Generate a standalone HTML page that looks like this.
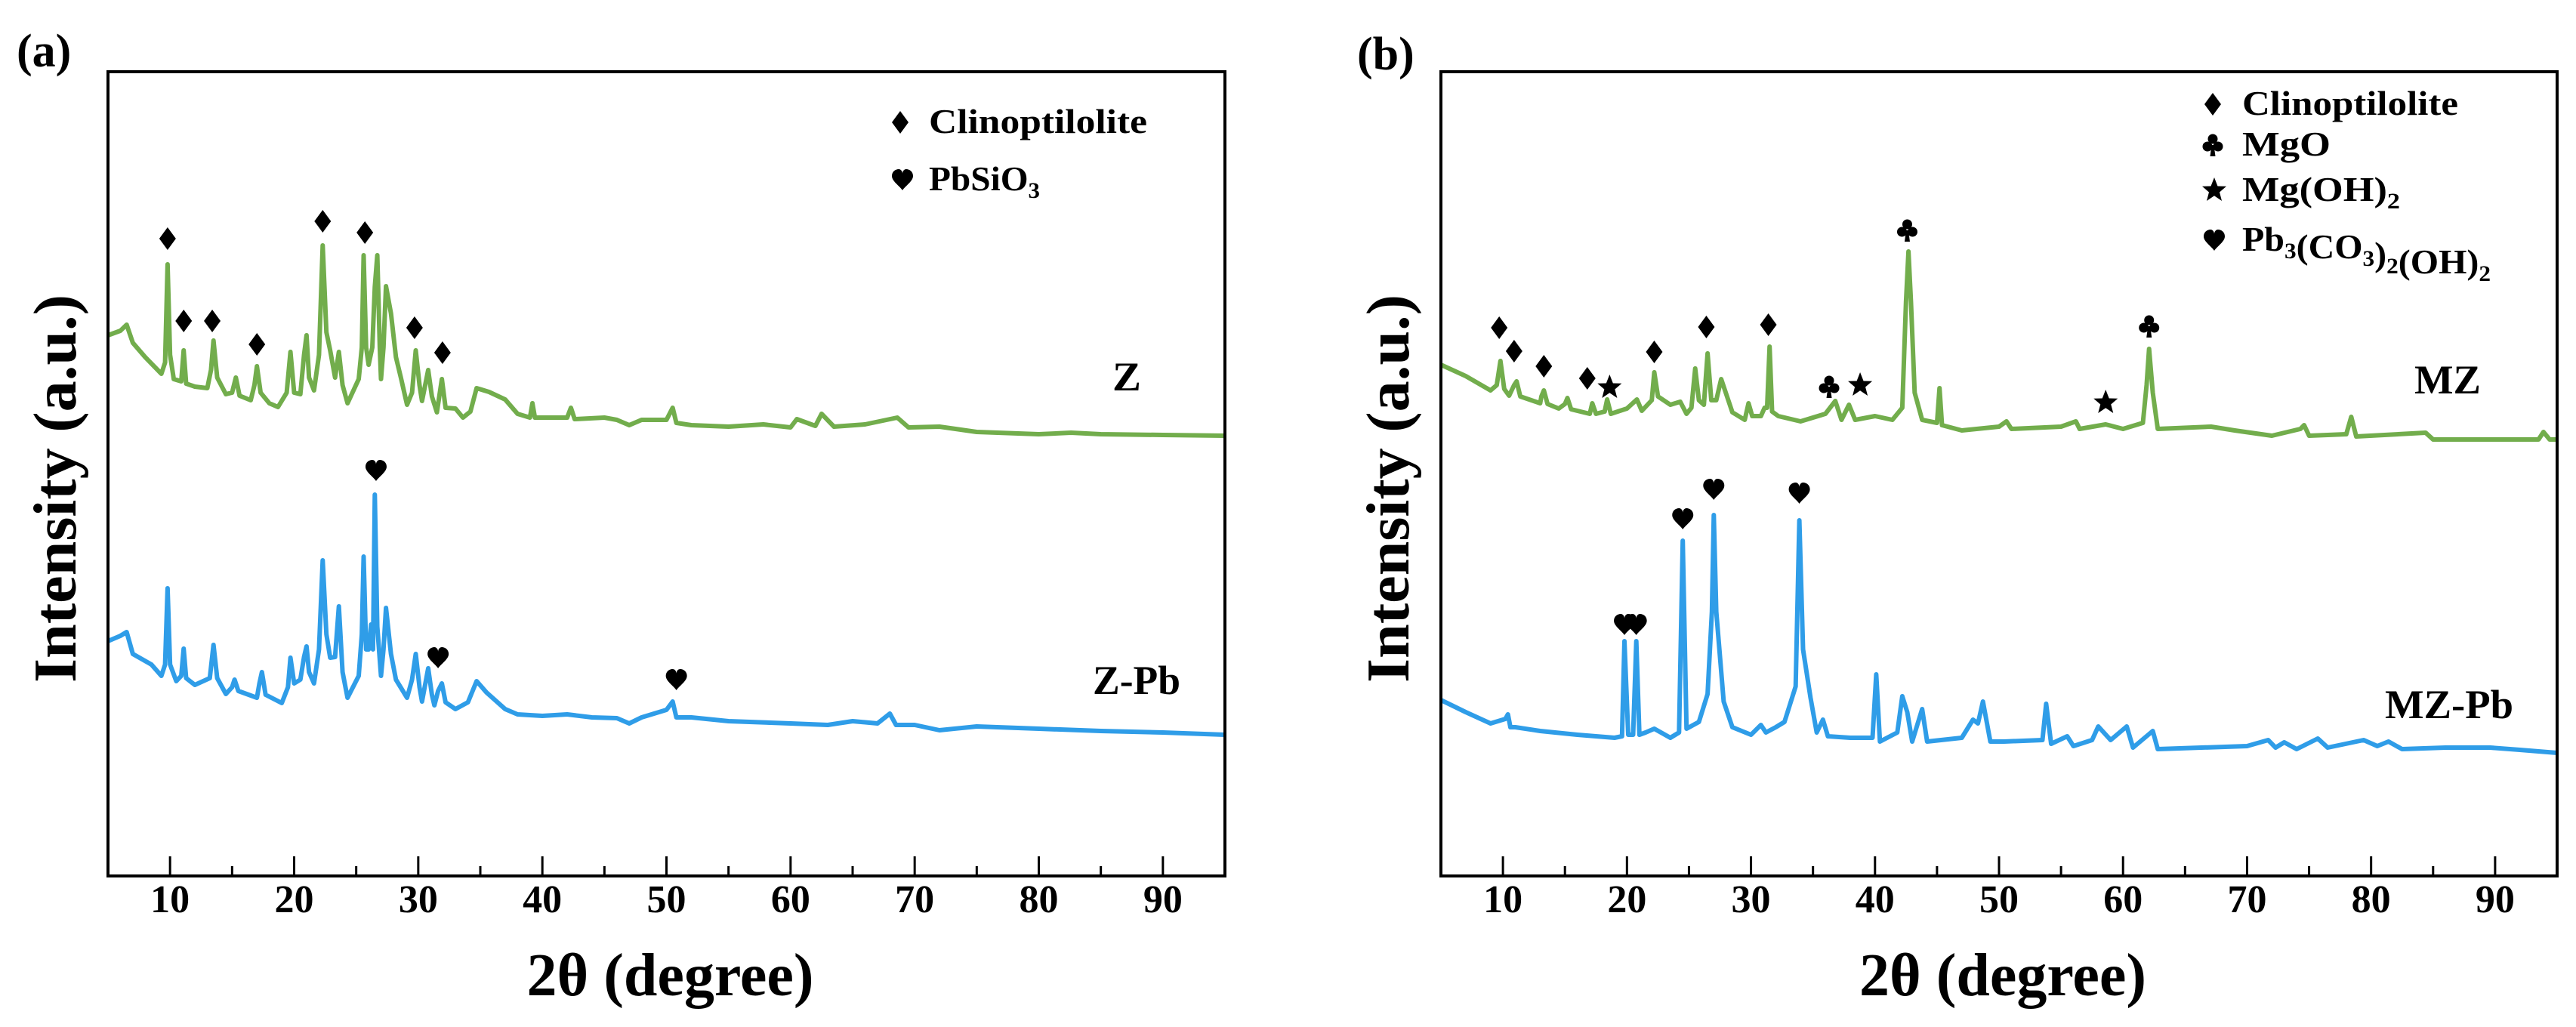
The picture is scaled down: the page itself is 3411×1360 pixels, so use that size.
<!DOCTYPE html>
<html><head><meta charset="utf-8"><style>
html,body{margin:0;padding:0;background:#fff;}
svg{display:block;font-family:"Liberation Serif",serif;font-weight:bold;}
</style></head><body>
<svg id="fig" width="3411" height="1360" viewBox="0 0 3411 1360" xmlns="http://www.w3.org/2000/svg">
<rect width="3411" height="1360" fill="#fff"/>
<text x="22" y="88" font-size="62">(a)</text>
<text x="1797" y="92" font-size="62">(b)</text>
<g id="pa"></g>
<g id="pb"></g>
</svg>
<script>
// ---- data (2θ in degrees, intensity in a.u.) ----
const ticksMajor = [10,20,30,40,50,60,70,80,90];
const ticksMinor = [15,25,35,45,55,65,75,85];
const zDeg = [5,6,6.5,7,8,9.3,9.6,9.8,10.0,10.3,10.9,11.1,11.3,12,13,13.3,13.5,13.8,14.5,15.0,15.3,15.6,16.5,16.8,17.0,17.3,18,18.7,19.4,19.7,20.0,20.5,20.8,21.0,21.2,21.6,22.0,22.3,22.6,22.9,23.3,23.6,23.9,24.3,25.2,25.45,25.6,25.8,26.0,26.3,26.5,26.7,26.9,27.0,27.2,27.4,27.8,28.2,28.6,29.1,29.5,29.8,30.1,30.3,30.8,31.1,31.5,31.9,32.2,33,33.6,34.2,34.7,35.7,37.0,38,39,39.2,39.4,42,42.3,42.6,45,46,47,48,50,50.5,50.8,52,55,57.8,60,60.5,62,62.5,63.5,66,68.6,69.5,72,75,80,82.6,85,90,95];
const zInt = [716,722,730,706,687,665,680,810,690,658,655,696,652,648,646,670,709,660,638,640,660,636,630,650,675,640,626,621,640,694,640,638,690,716,660,643,690,835,720,696,660,694,650,626,658,700,822,700,677,700,780,822,700,658,700,781,745,687,660,624,640,696,650,629,670,635,614,658,620,619,607,615,646,641,631,612,607,626,607,607,620,605,607,604,597,604,604,620,600,597,595,598,594,605,596,612,595,598,607,594,595,588,585,587,585,584,583];
const zpbDeg = [5,6,6.5,7,8.5,9.3,9.6,9.8,10.0,10.5,10.9,11.1,11.3,12,13.2,13.5,13.8,14.5,15.0,15.2,15.5,17,17.2,17.4,17.7,19,19.5,19.7,20.0,20.5,20.8,21.0,21.2,21.6,22.0,22.3,22.6,22.9,23.3,23.6,23.9,24.3,25.2,25.45,25.6,25.8,26.0,26.2,26.35,26.5,26.7,27.0,27.2,27.4,27.8,28.2,29.1,29.5,29.8,30.1,30.3,30.8,31.1,31.3,31.6,31.9,32.2,33,34.0,34.7,35.5,37,38,40,42,44,46,47,48,50,50.5,50.8,52,55,60,63,65,67,68,68.5,70,72,75,80,85,90,95];
const zpbInt = [311,318,323,294,280,265,280,381,280,258,265,301,262,253,262,306,262,241,250,260,245,236,255,270,240,229,250,289,255,260,290,304,270,255,300,418,320,289,290,357,270,236,265,320,423,300,300,333,300,505,330,265,300,355,294,260,236,260,294,250,231,275,240,226,245,255,230,221,230,258,243,221,214,212,214,210,209,202,210,220,231,210,210,205,202,200,205,202,215,200,200,193,198,195,192,190,187];
const mzDeg = [5,7,9,9.5,9.8,10.1,10.5,10.9,11.1,11.4,13,13.1,13.3,13.6,14.5,15.0,15.2,15.5,17,17.2,17.5,18.2,18.4,18.7,20,20.8,21.2,22.0,22.2,22.5,23.5,24.3,24.8,25.2,25.5,25.8,26.2,26.5,26.8,27.2,27.6,28.5,29.5,29.8,30.1,30.8,31.1,31.3,31.5,31.7,32.2,34,36,36.8,37.3,37.9,38.4,40,41.4,42.2,42.5,42.7,42.9,43.2,43.8,45.0,45.2,45.4,47,50,50.6,51,55,56.2,56.5,58.6,60,61.6,61.9,62.1,62.4,62.8,67.1,69,72,74.3,74.6,75,78.0,78.4,78.8,84.4,85,93.5,93.9,94.4,95];
const mzInt = [677,662,643,650,682,645,636,650,655,635,626,635,643,625,619,625,633,618,612,626,612,615,631,612,619,631,616,630,667,635,624,628,612,620,672,630,624,692,630,630,658,614,604,626,609,609,620,620,701,615,609,602,612,629,604,624,604,609,604,620,760,827,760,640,604,600,646,597,590,595,602,592,595,602,592,598,592,600,650,698,640,592,595,590,583,592,597,583,585,608,582,587,578,578,588,578,578];
const mzpbDeg = [5,7,9,10.2,10.4,10.6,11,13,16,19,19.6,19.8,20.1,20.5,20.75,21.0,21.5,22.2,23.5,24.2,24.5,24.8,25.8,26.5,26.85,27.0,27.2,27.8,28.5,30,30.8,31.2,32.0,32.7,33.6,33.9,34.2,34.8,35.3,35.8,36.2,38,39.8,40.1,40.4,41.8,42.2,42.6,43.0,43.8,44.2,47,47.9,48.3,48.7,49.3,50.4,53.5,53.8,54.2,55.5,56,57.5,58.0,59,60.3,60.8,62.4,62.8,70,71.7,72.3,73,74,75.7,76.5,79.4,80.5,81.4,82.5,86,89.6,92,95];
const mzpbInt = [233,217,202,208,214,197,197,192,187,183,185,311,187,187,311,187,190,195,183,190,444,195,204,241,350,478,350,231,197,187,200,190,197,204,251,471,300,236,190,207,185,183,183,267,178,190,238,217,178,221,178,183,207,202,231,178,178,180,228,175,185,172,180,198,180,198,170,192,168,172,180,170,177,168,182,170,180,172,178,168,170,170,167,163];
// annotation markers [2θ, intensity]
const aDiamonds = [[9.8,844],[11.1,735],[13.4,735],[17.0,704],[22.3,867],[25.7,852],[29.7,726],[31.95,693]];
const aHearts = [[26.6,537],[31.6,289],[50.8,260]];
const bDiamonds = [[9.7,726],[10.9,695],[13.3,675],[16.8,659],[22.2,694],[26.4,727],[31.4,730]];
const bStars = [[18.6,647],[38.8,650],[58.6,627]];
const bClubs = [[36.3,648],[42.6,855],[62.1,728]];
const bHearts = [[19.8,333],[20.75,333],[24.5,473],[27.0,512],[33.9,507]];

const NS = "http://www.w3.org/2000/svg";
const GREEN = "#72ad4c", BLUE = "#2f9de8";
const TOP = 95, BOT = 1160, XMIN = 5, XMAX = 95;

function mk(tag, attrs, parent) {
  const e = document.createElementNS(NS, tag);
  for (const k in attrs) e.setAttribute(k, attrs[k]);
  parent.appendChild(e);
  return e;
}
function yScale(v) { return BOT - v; }

const SHAPES = {
  diamond: "M0,-15 L11,0 L0,15 L-11,0Z",
  heart: "M0,14 C-4,8 -14,2 -14,-5 C-14,-11 -9,-14 -5,-14 C-2,-14 0,-11 0,-8 C0,-11 2,-14 5,-14 C9,-14 14,-11 14,-5 C14,2 4,8 0,14Z",
  star: "M0,-17 L4.5,-5.5 L16,-5.2 L7,2.5 L10,14 L0,7.2 L-10,14 L-7,2.5 L-16,-5.2 L-4.5,-5.5Z"
};
function marker(g, kind, cx, cy, name) {
  let e;
  if (kind === "club") {
    e = mk("g", {transform: `translate(${cx},${cy})`, fill: "#000"}, g);
    mk("circle", {cx: 0, cy: -8, r: 6.5}, e);
    mk("circle", {cx: -7, cy: 2, r: 6.5}, e);
    mk("circle", {cx: 7, cy: 2, r: 6.5}, e);
    mk("path", {d: "M-1.5,0 L1.5,0 L3.5,15 L-3.5,15Z"}, e);
  } else {
    e = mk("path", {d: SHAPES[kind], transform: `translate(${cx},${cy})`, fill: "#000"}, g);
  }
  
  
}

function panel(gid, x0, x1, series, markers, labels, legend, yTitleX) {
  const g = document.getElementById(gid);
  const xs = d => x0 + (d - XMIN) / (XMAX - XMIN) * (x1 - x0);
  series.forEach(s => {
    let d = "";
    s.deg.forEach((v, i) => { d += (i ? "L" : "M") + xs(v).toFixed(1) + "," + yScale(s.val[i]).toFixed(1); });
    const p = mk("path", {d: d, fill: "none", stroke: s.color, "stroke-width": 6, "stroke-linejoin": "round"}, g);
    
    
  });
  const fr = mk("rect", {x: x0, y: TOP, width: x1 - x0, height: BOT - TOP, fill: "none", stroke: "#000", "stroke-width": 4}, g);
  
  
  ticksMajor.forEach(t => {
    const l = mk("line", {x1: xs(t), x2: xs(t), y1: BOT, y2: BOT - 26, stroke: "#000", "stroke-width": 3}, g);
    
    
    const tx = mk("text", {x: xs(t), y: 1208, "font-size": 52, "text-anchor": "middle"}, g);
    tx.textContent = t;
    
    
  });
  ticksMinor.forEach(t => {
    const l = mk("line", {x1: xs(t), x2: xs(t), y1: BOT, y2: BOT - 13, stroke: "#000", "stroke-width": 3}, g);
    
    
  });
  const xt = mk("text", {x: (x0 + x1) / 2 + 5, y: 1318, "font-size": 80, "text-anchor": "middle"}, g);
  xt.textContent = "2θ (degree)";
  
  
  const yt = mk("text", {x: 0, y: 0, "font-size": 80, "text-anchor": "middle", textLength: 514, lengthAdjust: "spacingAndGlyphs", transform: `translate(${yTitleX},647) rotate(-90)`}, g);
  yt.textContent = "Intensity (a.u.)";
  
  
  markers.forEach(m => m.pts.forEach(p => marker(g, m.kind, xs(p[0]), yScale(p[1]), m.kind + "-marker")));
  labels.forEach(l => {
    const t = mk("text", {x: l.x, y: l.y, "font-size": 54, textLength: l.w, lengthAdjust: "spacingAndGlyphs"}, g);
    t.textContent = l.t;
    
    
  });
  legend.forEach(l => {
    marker(g, l.kind, l.mx, l.my, "legend-" + l.kind + "-marker");
    const t = mk("text", {x: l.tx, y: l.my + 14, "font-size": 46, textLength: l.w, lengthAdjust: "spacingAndGlyphs"}, g);
    t.innerHTML = l.html;
    
    
  });
}

const SUB = s => `<tspan font-size="30" dy="10">${s}</tspan><tspan dy="-10"></tspan>`;

panel("pa", 143, 1622,
  [{deg: zDeg, val: zInt, color: GREEN, name: "z-pattern"},
   {deg: zpbDeg, val: zpbInt, color: BLUE, name: "z-pb-pattern"}],
  [{kind: "diamond", pts: aDiamonds}, {kind: "heart", pts: aHearts}],
  [{t: "Z", x: 1473, y: 517, w: 38, name: "z-label"},
   {t: "Z-Pb", x: 1447, y: 919, w: 116, name: "z-pb-label"}],
  [{kind: "diamond", mx: 1192, my: 162, tx: 1230, w: 289, html: "Clinoptilolite"},
   {kind: "heart", mx: 1195, my: 238, tx: 1230, w: 147, html: "PbSiO" + SUB("3")}],
  100);

panel("pb", 1908, 3386,
  [{deg: mzDeg, val: mzInt, color: GREEN, name: "mz-pattern"},
   {deg: mzpbDeg, val: mzpbInt, color: BLUE, name: "mz-pb-pattern"}],
  [{kind: "diamond", pts: bDiamonds}, {kind: "star", pts: bStars}, {kind: "club", pts: bClubs}, {kind: "heart", pts: bHearts}],
  [{t: "MZ", x: 3197, y: 521, w: 88, name: "mz-label"},
   {t: "MZ-Pb", x: 3158, y: 951, w: 170, name: "mz-pb-label"}],
  [{kind: "diamond", mx: 2930, my: 138, tx: 2969, w: 286, html: "Clinoptilolite"},
   {kind: "club", mx: 2930, my: 192, tx: 2969, w: 117, html: "MgO"},
   {kind: "star", mx: 2932, my: 252, tx: 2969, w: 209, html: "Mg(OH)" + SUB("2")},
   {kind: "heart", mx: 2932, my: 318, tx: 2969, w: 329, html: "Pb" + SUB("3") + "(CO" + SUB("3") + ")" + SUB("2") + "(OH)" + SUB("2")}],
  1865);
</script>
</body></html>
